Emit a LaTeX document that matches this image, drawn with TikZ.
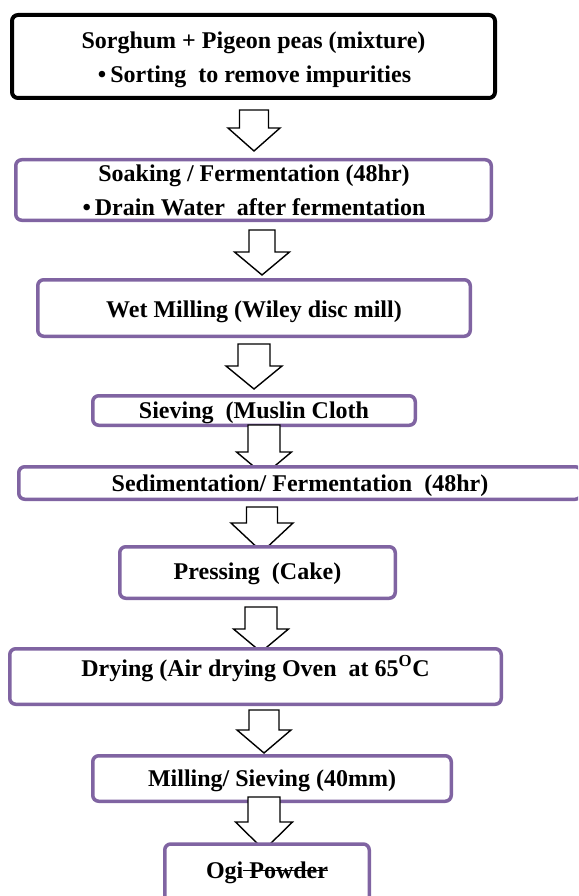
\documentclass[tikz,border=0pt]{standalone}
\usepackage{fontspec}
\setmainfont{Liberation Serif}
\definecolor{boxpurple}{RGB}{128,100,162}
\newcommand\mystrike[1]{\setbox0\hbox{#1}\rlap{\rule[0.3em]{\wd0}{1.3pt}}\box0}
\tikzset{
  stepbox/.style={draw=boxpurple, line width=3.5pt, rounded corners=6pt, fill=white, inner sep=0pt},
  blackbox/.style={draw=black, line width=4pt, rounded corners=6pt, fill=white, inner sep=0pt},
  lbl/.style={anchor=base, inner sep=0pt, font=\fontsize{24}{28}\selectfont\bfseries},
  barrow/.style={draw=black, fill=white, line width=1.4pt, line join=miter}
}
% cx, top, shaft half width, head half width, head base, tip
\newcommand\blkarrow[6]{%
  \draw[barrow] ({#1-#3},#2) -- ({#1+#3},#2) -- ({#1+#3},#5) -- ({#1+#4},#5) -- (#1,#6) -- ({#1-#4},#5) -- ({#1-#3},#5) -- cycle;}
\begin{document}
\begin{tikzpicture}[x=1pt,y=-1pt]
\useasboundingbox (0,0) rectangle (578,896);
\clip (0,0) rectangle (578,896);
\fill[white] (0,0) rectangle (578,896);

\node[blackbox, minimum width=483pt, minimum height=83pt] (b1) at (253.5,56.5) {};
\node[lbl] (t1a) at (253.5,48.5) {Sorghum + Pigeon peas (mixture)};
\node[lbl] (t1b) at (254.5,83) {\textbullet\,Sorting\ \ to remove impurities};
\blkarrow{254}{110}{14.5}{26}{128}{151}

\node[stepbox, minimum width=475.5pt, minimum height=60.5pt] (b2) at (253.5,190) {};
\node[lbl] (t2a) at (254,182) {Soaking / Fermentation (48hr)};
\node[lbl] (t2b) at (254,215) {\textbullet\,Drain Water\ \ after fermentation};
\blkarrow{262}{230}{13}{27.5}{252}{275}

\node[stepbox, minimum width=432.5pt, minimum height=56.5pt] (b3) at (254,308) {};
\node[lbl] (t3) at (254,317) {Wet Milling (Wiley disc mill)};
\blkarrow{254}{344}{16}{28}{366}{389}

\node[stepbox, minimum width=322.5pt, minimum height=29.5pt] (b4) at (254,410.5) {};
\node[lbl] (t4) at (254,418) {Sieving\ \ (Muslin Cloth};
\blkarrow{264}{425}{16}{27.5}{452}{475}

\node[stepbox, minimum width=562.5pt, minimum height=32.5pt] (b5) at (300,483) {};
\node[lbl] (t5) at (300,491) {Sedimentation/ Fermentation\ \ (48hr)};
\blkarrow{262}{507}{15.5}{31}{523}{552}

\node[stepbox, minimum width=275.5pt, minimum height=51.5pt] (b6) at (257.5,572.5) {};
\node[lbl] (t6) at (257.5,579) {Pressing\ \ (Cake)};
\blkarrow{261}{607}{16}{27.5}{629}{652}

\node[stepbox, minimum width=491.5pt, minimum height=55.5pt] (b7) at (255.5,676.5) {};
\node[lbl] (t7) at (255.5,676) {Drying (Air drying Oven\ \ at 65\textsuperscript{O}C};
\blkarrow{264}{710}{15}{27}{730}{753}

\node[stepbox, minimum width=358.5pt, minimum height=45.5pt] (b8) at (272,778.5) {};
\node[lbl] (t8) at (272,786) {Milling/ Sieving (40mm)};
\blkarrow{264}{797}{16}{28.5}{822}{850}

\node[stepbox, minimum width=204.5pt, minimum height=60pt] (b9) at (267,874) {};
\node[lbl] (t9) at (267,878) {Ogi\mystrike{ Powder}};
\end{tikzpicture}
\end{document}
